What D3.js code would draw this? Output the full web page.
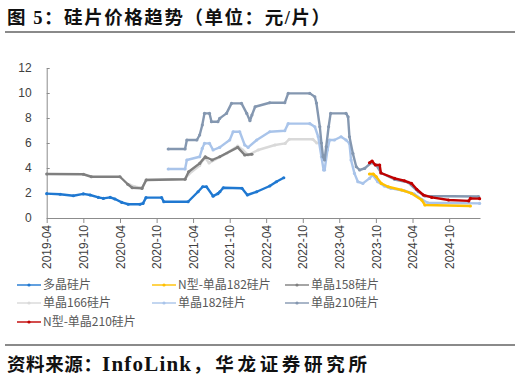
<!DOCTYPE html>
<html>
<head>
<meta charset="utf-8">
<script src="https://cdn.jsdelivr.net/npm/d3@7"></script>
<style>
  body { margin: 0; background: #fff; }
  svg { display: block; }
</style>
</head>
<body>
<svg id="chart" width="520" height="385"></svg>
<script>
// tick labels
var xTickLabels = ["2019-04", "2019-10", "2020-04", "2020-10", "2021-04", "2021-10",
                   "2022-04", "2022-10", "2023-04", "2023-10", "2024-04", "2024-10"]
var yTicks = [0, 2, 4, 6, 8, 10, 12]

// series names (legend order)
var seriesNames = ["多晶硅片", "N型-单晶182硅片", "单晶158硅片", "单晶166硅片",
                   "单晶182硅片", "单晶210硅片", "N型-单晶210硅片"]

// values, 元/片
var poly = [
  ["2019-04-01", 1.95], ["2019-06-07", 1.9], ["2019-08-12", 1.78], ["2019-10-01", 1.93],
  ["2019-11-04", 1.84], ["2019-12-15", 1.65], ["2020-01-09", 1.57], ["2020-02-12", 1.65],
  ["2020-03-07", 1.52], ["2020-04-10", 1.25], ["2020-05-12", 1.1], ["2020-07-10", 1.1],
  ["2020-07-25", 1.17], ["2020-08-09", 1.63], ["2020-10-26", 1.63], ["2020-11-06", 1.3],
  ["2021-03-07", 1.3], ["2021-04-26", 2.1], ["2021-05-19", 2.5], ["2021-06-07", 2.5],
  ["2021-07-10", 1.75], ["2021-08-03", 1.95], ["2021-08-13", 2.1], ["2021-08-30", 2.42],
  ["2021-12-01", 2.38], ["2021-12-28", 1.84], ["2022-02-13", 2.1], ["2022-04-19", 2.56],
  ["2022-05-22", 2.9], ["2022-06-28", 3.22]
]
var n182 = [
  ["2023-08-30", 3.52], ["2023-09-18", 3.52], ["2023-10-03", 3.3], ["2023-10-28", 2.77],
  ["2023-12-01", 2.5], ["2024-02-07", 2.24], ["2024-03-27", 1.97], ["2024-05-17", 1.44],
  ["2024-06-02", 1.04], ["2025-01-15", 0.96]
]
var mono158 = [
  ["2019-04-01", 3.52], ["2019-10-01", 3.5], ["2019-11-10", 3.3], ["2020-04-01", 3.3],
  ["2020-05-10", 2.7], ["2020-06-01", 2.42], ["2020-07-20", 2.37], ["2020-08-10", 3.04],
  ["2021-02-20", 3.1], ["2021-03-10", 3.7], ["2021-05-04", 4.37], ["2021-06-01", 4.9],
  ["2021-07-05", 4.64], ["2021-08-12", 4.9], ["2021-11-10", 5.65], ["2021-12-15", 5.04],
  ["2022-01-20", 5.1]
]
var mono166 = [
  ["2020-05-20", 2.65], ["2020-06-15", 2.5], ["2020-07-20", 2.42], ["2020-08-10", 3.06],
  ["2021-02-20", 3.12], ["2021-03-10", 3.5], ["2021-05-04", 4.2], ["2021-05-20", 4.64],
  ["2021-06-01", 4.8], ["2021-06-20", 4.4], ["2021-09-15", 5.17], ["2021-11-10", 5.76],
  ["2021-12-05", 5.44], ["2022-01-01", 5.04], ["2022-02-20", 5.44], ["2022-05-15", 5.84],
  ["2022-07-05", 5.97], ["2022-07-25", 6.3], ["2022-11-20", 6.3], ["2022-12-10", 6.0]
]
var mono182 = [
  ["2020-11-28", 3.92], ["2021-02-20", 3.92], ["2021-03-01", 4.64], ["2021-05-04", 4.9],
  ["2021-05-17", 5.57], ["2021-05-28", 5.97], ["2021-06-22", 5.97], ["2021-07-10", 5.44],
  ["2021-08-12", 5.65], ["2021-10-01", 6.24], ["2021-10-18", 6.9], ["2021-11-20", 6.9],
  ["2021-12-15", 5.84], ["2022-01-01", 5.65], ["2022-02-13", 6.24], ["2022-04-19", 6.9],
  ["2022-07-03", 6.98], ["2022-07-20", 7.55], ["2022-11-05", 7.55], ["2022-11-30", 7.3],
  ["2022-12-17", 6.5], ["2023-01-02", 4.9], ["2023-01-13", 3.84], ["2023-01-18", 3.84],
  ["2023-02-01", 5.44], ["2023-02-12", 6.24], ["2023-03-08", 6.24], ["2023-04-10", 6.5],
  ["2023-05-05", 6.24], ["2023-05-22", 5.97], ["2023-05-30", 4.64], ["2023-06-16", 3.57],
  ["2023-07-03", 2.9], ["2023-07-28", 2.77], ["2023-08-30", 3.17], ["2023-09-15", 3.44],
  ["2023-10-10", 2.9], ["2023-11-12", 2.56], ["2023-12-15", 2.37], ["2024-02-20", 2.18],
  ["2024-04-10", 1.92], ["2024-05-22", 1.44], ["2024-06-16", 1.22], ["2025-03-02", 1.17]
]
var mono210 = [
  ["2020-11-28", 5.52], ["2021-02-20", 5.52], ["2021-03-01", 6.24], ["2021-04-20", 6.24],
  ["2021-05-04", 6.64], ["2021-05-17", 7.44], ["2021-05-28", 8.37], ["2021-06-22", 8.37],
  ["2021-07-02", 7.7], ["2021-08-03", 7.7], ["2021-08-12", 7.97], ["2021-09-15", 8.37],
  ["2021-10-10", 9.17], ["2021-11-29", 9.17], ["2021-12-25", 8.37], ["2022-01-10", 7.78],
  ["2022-01-20", 8.24], ["2022-02-05", 8.9], ["2022-04-19", 9.22], ["2022-07-03", 9.22],
  ["2022-07-20", 9.97], ["2022-11-05", 9.97], ["2022-11-30", 9.7], ["2022-12-08", 9.2],
  ["2022-12-25", 7.3], ["2023-01-02", 6.0], ["2023-01-10", 4.9], ["2023-01-18", 4.64],
  ["2023-01-26", 5.7], ["2023-02-07", 7.3], ["2023-02-17", 8.37], ["2023-05-05", 8.37],
  ["2023-05-15", 8.1], ["2023-05-22", 6.5], ["2023-06-08", 5.17], ["2023-06-25", 4.1],
  ["2023-07-12", 3.84], ["2023-08-06", 3.97], ["2023-09-08", 4.42], ["2023-10-03", 4.24],
  ["2023-10-28", 3.6], ["2024-01-03", 3.08], ["2024-03-10", 2.85], ["2024-04-30", 2.1],
  ["2024-06-02", 1.76], ["2025-02-25", 1.72]
]
var n210 = [
  ["2023-08-30", 4.42], ["2023-09-12", 4.56], ["2023-09-28", 4.24], ["2023-10-20", 4.24],
  ["2023-10-26", 3.6], ["2024-01-03", 3.17], ["2024-02-20", 2.98], ["2024-03-27", 2.77],
  ["2024-04-22", 2.3], ["2024-05-25", 1.84], ["2024-07-06", 1.65], ["2024-09-28", 1.44],
  ["2025-01-07", 1.37], ["2025-01-15", 1.57], ["2025-03-02", 1.55]
]

var seriesValues = [poly, n182, mono158, mono166, mono182, mono210, n210]
var colors = ["#1f78d1", "#ffc000", "#7f7f7f", "#d9d9d9", "#a9c4ea", "#8497b0", "#c00000"]
var drawOrder = [3, 2, 0, 4, 5, 1, 6]

var parse = d3.timeParse("%Y-%m-%d")
var svg = d3.select("#chart")
var cjk = "'Liberation Serif', 'Noto Sans CJK SC', serif"

// title + rule
svg.append("text")
  .attr("x", 7).attr("y", 24)
  .attr("font-family", cjk).attr("font-weight", "bold").attr("font-size", 18.5)
  .attr("fill", "#111")
  .attr("textLength", 323).attr("lengthAdjust", "spacing")
  .text("图 5：硅片价格趋势（单位：元/片）")
svg.append("line").attr("x1", 5).attr("x2", 515).attr("y1", 32).attr("y2", 32)
  .attr("stroke", "#8a8a8a").attr("stroke-width", 2)

// scales
var x = d3.scaleTime()
  .domain([parse("2019-04-01"), parse("2025-03-04")])
  .range([46.7, 480])
var y = d3.scaleLinear().domain([0, 12]).range([218, 68])

var xAxis = d3.axisBottom(x)
  .tickValues(xTickLabels.map(function(s) { return parse(s + "-01") }))
  .tickFormat(d3.timeFormat("%Y-%m"))
  .tickSizeInner(5).tickSizeOuter(0)
var gx = svg.append("g").attr("transform", "translate(0,218)").call(xAxis)
gx.selectAll("text")
  .attr("transform", "rotate(-90)")
  .attr("x", -7).attr("y", 0).attr("dy", "0.35em")
  .attr("text-anchor", "end")

var yAxis = d3.axisLeft(y).tickValues(yTicks).tickSizeInner(-3).tickSizeOuter(0).tickPadding(15)
var gy = svg.append("g").attr("transform", "translate(46.7,0)").call(yAxis)

svg.selectAll(".tick text")
  .attr("font-family", "'Liberation Sans', Arial, sans-serif")
  .attr("font-size", 12).attr("fill", "#404040")
svg.selectAll(".domain, .tick line").attr("stroke", "#8c8c8c")

// lines
var line = d3.line()
  .x(function(d) { return x(parse(d[0])) })
  .y(function(d) { return y(d[1]) })

drawOrder.forEach(function(i) {
  var g = svg.append("g")
  g.append("path")
    .attr("d", line(seriesValues[i]))
    .attr("fill", "none")
    .attr("stroke", colors[i])
    .attr("stroke-width", 2.4)
    .attr("stroke-linejoin", "round")
  g.selectAll("circle").data(seriesValues[i]).enter().append("circle")
    .attr("cx", function(d) { return x(parse(d[0])) })
    .attr("cy", function(d) { return y(d[1]) })
    .attr("r", 1.6)
    .attr("fill", colors[i])
})

// legend
var legX = [17, 152, 285]
var legY = [285, 303, 322]
seriesNames.forEach(function(name, i) {
  var lx = legX[i % 3], ly = legY[Math.floor(i / 3)]
  var g = svg.append("g").attr("transform", "translate(" + lx + "," + ly + ")")
  g.append("line").attr("x1", 0).attr("x2", 24).attr("y1", 0).attr("y2", 0)
    .attr("stroke", colors[i]).attr("stroke-width", 1.4)
  g.append("circle").attr("cx", 12).attr("cy", 0).attr("r", 1.6).attr("fill", colors[i])
  g.append("text").attr("x", 26).attr("y", 0).attr("dy", "0.35em")
    .attr("font-family", "'Noto Sans CJK SC', sans-serif")
    .attr("font-size", 12).attr("fill", "#595959")
    .text(name)
})

// footer
svg.append("line").attr("x1", 5).attr("x2", 515).attr("y1", 345).attr("y2", 345)
  .attr("stroke", "#8a8a8a").attr("stroke-width", 2)
var foot = [["资料来源：", 7, 95], ["InfoLink", 102, 89], ["，华龙证券研究所", 193, 174]]
foot.forEach(function(f) {
  svg.append("text")
    .attr("x", f[1]).attr("y", 371)
    .attr("font-family", cjk).attr("font-weight", "bold")
    .attr("font-size", f[0] === "InfoLink" ? 21 : 18.5)
    .attr("fill", "#111")
    .attr("textLength", f[2]).attr("lengthAdjust", "spacing")
    .text(f[0])
})
</script>
</body>
</html>
